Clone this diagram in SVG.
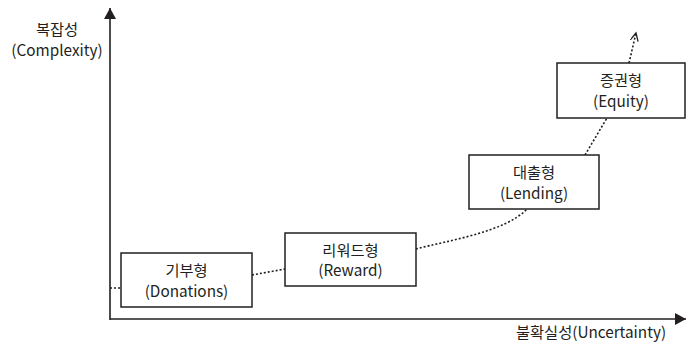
<svg xmlns="http://www.w3.org/2000/svg" width="686" height="343" viewBox="0 0 686 343">
<style>
text{font-family:"Noto Sans CJK KR","Noto Sans",sans-serif;font-size:15.3px;fill:#231f20;text-anchor:middle}
.box{fill:#fff;stroke:#231f20;stroke-width:1.5}
.axis{stroke:#231f20;stroke-width:1.6;fill:none}
.dot{stroke:#231f20;stroke-width:1.6;fill:none;stroke-dasharray:2 2}
</style>
<defs>
<marker id="ah" markerWidth="14" markerHeight="14" refX="11" refY="6" orient="auto" markerUnits="userSpaceOnUse"><path d="M0,0 L11,6 L0,12 Z" fill="#231f20"/></marker>
<marker id="oa" markerWidth="10" markerHeight="10" refX="8" refY="4" orient="auto" markerUnits="userSpaceOnUse"><path d="M0,0 L8,4 L0,8" fill="none" stroke="#231f20" stroke-width="1.3"/></marker>
</defs>
<g id="axes">
<line class="axis" x1="110" y1="320" x2="110" y2="8" marker-end="url(#ah)"/>
<line class="axis" x1="110" y1="319" x2="686" y2="319" marker-end="url(#ah)"/>
<text x="57" y="35">복잡성</text>
<text x="57" y="56">(Complexity)</text>
<text x="591" y="338">불확실성(Uncertainty)</text>
</g>
<g id="connectors">
<path class="dot" d="M110,288 L121,288"/>
<path class="dot" d="M252,275 L285,269"/>
<path class="dot" d="M416,249 C450,240 505,232 527,209"/>
<path class="dot" d="M585,155 L607,118"/>
<path class="dot" d="M629,63 L636,33" marker-end="url(#oa)"/>
</g>
<g id="donations">
<rect class="box" x="121" y="253" width="131" height="54"/>
<text x="186.5" y="276">기부형</text>
<text x="186.5" y="297">(Donations)</text>
</g>
<g id="reward">
<rect class="box" x="285" y="233" width="131" height="53"/>
<text x="350.5" y="256">리워드형</text>
<text x="350.5" y="276">(Reward)</text>
</g>
<g id="lending">
<rect class="box" x="469" y="155" width="130" height="54"/>
<text x="534" y="178">대출형</text>
<text x="534" y="199">(Lending)</text>
</g>
<g id="equity">
<rect class="box" x="557" y="63" width="128" height="55"/>
<text x="621" y="86">증권형</text>
<text x="621" y="107">(Equity)</text>
</g>
</svg>
